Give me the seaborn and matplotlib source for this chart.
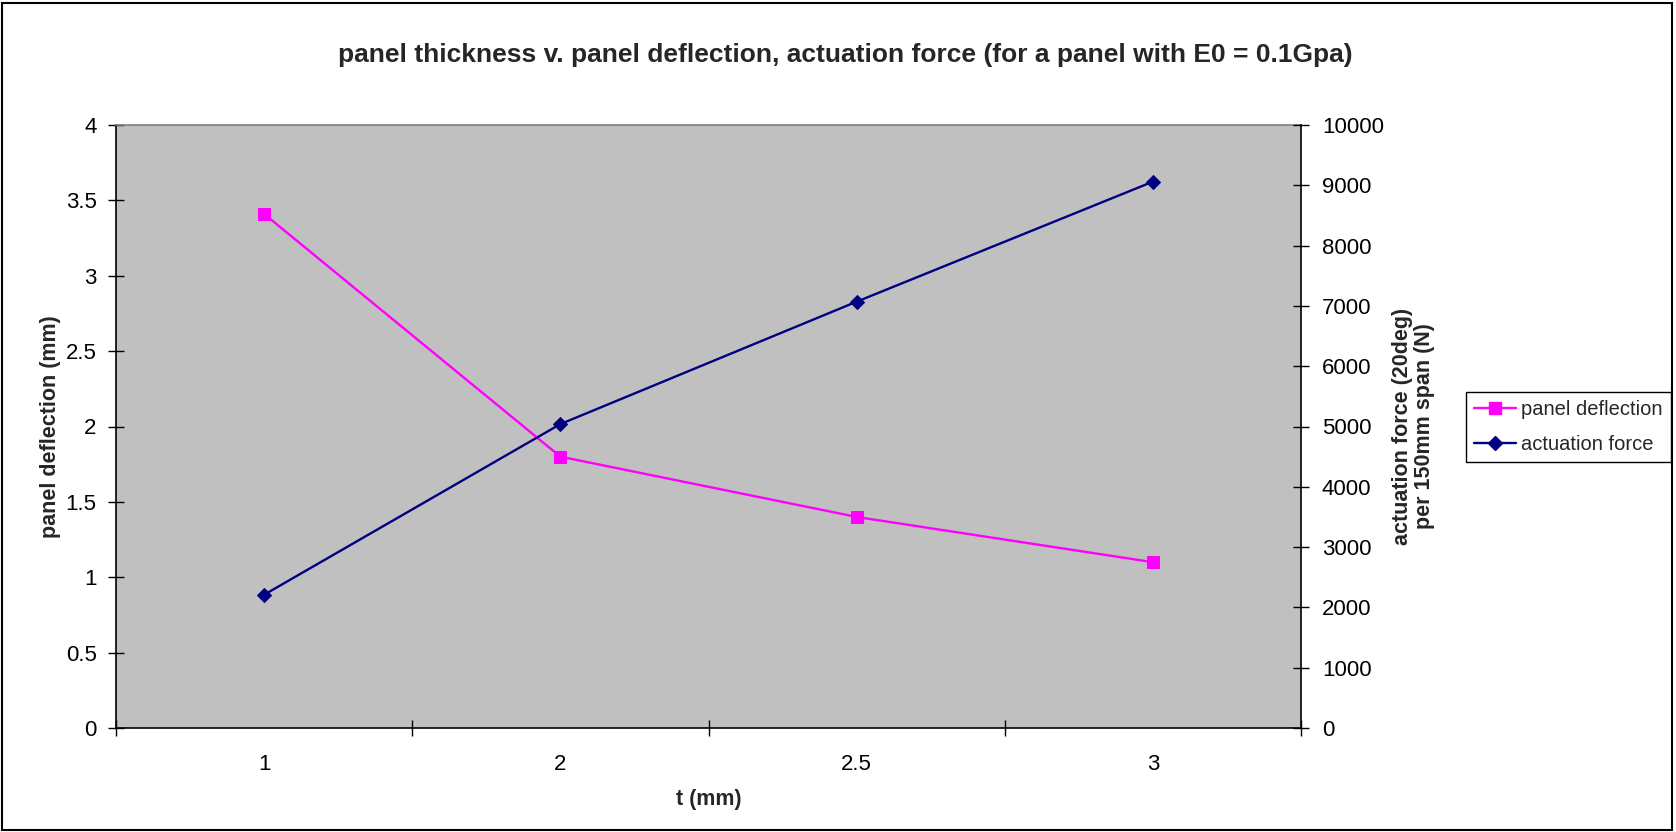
import matplotlib
matplotlib.use("Agg")
import matplotlib.pyplot as plt
import seaborn as sns
import numpy as np
import pandas as pd
from matplotlib.patches import Rectangle
from matplotlib.lines import Line2D
from matplotlib.ticker import FixedLocator, NullFormatter, FixedFormatter

# ---- data ----
categories = ["1", "2", "2.5", "3"]
deflection = [3.41, 1.80, 1.40, 1.10]
force = [2210, 5040, 7070, 9060]
left_ticks = [0, 0.5, 1, 1.5, 2, 2.5, 3, 3.5, 4]
right_ticks = [0, 1000, 2000, 3000, 4000, 5000, 6000, 7000, 8000, 9000, 10000]

sns.set_theme(style="white")
plt.rcParams['font.family'] = ['Liberation Sans', 'DejaVu Sans']

W, H = 1676, 832
fig = plt.figure(figsize=(W / 100, H / 100), dpi=100)
ax = fig.add_axes([116 / W, 1 - 728 / H, (1301 - 116) / W, (728 - 125) / H])
ax.set_facecolor("#C0C0C0")

pos = np.arange(len(categories))
df = pd.DataFrame({"pos": pos, "deflection": deflection, "force": force})

pink = "#FF00FF"
navy = "#000080"

sns.lineplot(data=df, x="pos", y="deflection", ax=ax, color=pink, marker="s",
             markersize=8, markeredgecolor=pink, linewidth=1.7, legend=False)
ax.set_xlim(-0.5, len(categories) - 0.5)
ax.set_ylim(0, 4)

ax2 = ax.twinx()
sns.lineplot(data=df, x="pos", y="force", ax=ax2, color=navy, marker="D",
             markersize=7, markeredgecolor=navy, linewidth=1.7, legend=False)
ax2.set_ylim(0, 10000)
ax2.set_xlim(-0.5, len(categories) - 0.5)

# spines
for a in (ax, ax2):
    for s in a.spines.values():
        s.set_visible(False)
ax.spines['left'].set_visible(True)
ax.spines['left'].set_color("black")
ax.spines['left'].set_linewidth(1.2)
ax.spines['bottom'].set_visible(True)
ax.spines['bottom'].set_color("black")
ax.spines['bottom'].set_linewidth(1.2)
ax.spines['top'].set_visible(True)
ax.spines['top'].set_color("#808080")
ax.spines['top'].set_linewidth(1.2)
ax2.spines['right'].set_visible(True)
ax2.spines['right'].set_color("black")
ax2.spines['right'].set_linewidth(1.2)

# x ticks: boundaries as major (no labels), centers as minor (labels)
ax.xaxis.set_major_locator(FixedLocator(np.arange(-0.5, len(categories), 1.0)))
ax.xaxis.set_major_formatter(NullFormatter())
ax.xaxis.set_minor_locator(FixedLocator(pos))
ax.xaxis.set_minor_formatter(FixedFormatter(categories))
ax.tick_params(axis='x', which='major', direction='inout', length=12, width=1, color='black', bottom=True)
ax.tick_params(axis='x', which='minor', length=0, pad=19, labelsize=16, labelcolor='black', bottom=True)

ax.set_yticks(left_ticks)
ax.set_yticklabels([f"{t:g}" for t in left_ticks])
ax.tick_params(axis='y', which='major', direction='inout', length=12, width=1, color='black',
               left=True, pad=8, labelsize=16, labelcolor='black')
ax2.set_yticks(right_ticks)
ax2.set_yticklabels([str(t) for t in right_ticks])
ax2.tick_params(axis='y', which='major', direction='inout', length=12, width=1, color='black',
                right=True, pad=9, labelsize=16, labelcolor='black')
ax2.tick_params(axis='x', bottom=False, labelbottom=False)

ax.set_xlabel("t (mm)", fontsize=15.5, fontweight='bold', labelpad=10)
ax.set_ylabel("panel deflection (mm)", fontsize=15.5, fontweight='bold', labelpad=3)
ax2.set_ylabel("actuation force (20deg)\nper 150mm span (N)", fontsize=15.5, fontweight='bold',
               labelpad=6, linespacing=1.05)

fig.text(845 / W, 1 - 55 / H,
         "panel thickness v. panel deflection, actuation force (for a panel with E0 = 0.1Gpa)",
         ha='center', va='center', fontsize=19, fontweight='bold')

# legend
handles = [Line2D([], [], color=pink, marker='s', markersize=8, linewidth=1.7, markeredgecolor=pink),
           Line2D([], [], color=navy, marker='D', markersize=7, linewidth=1.7, markeredgecolor=navy)]
leg = fig.legend(handles, ["panel deflection", "actuation force"], loc='center left',
                 bbox_to_anchor=(1466 / W, 1 - 427 / H), fontsize=14.5, frameon=True,
                 fancybox=False, framealpha=1, edgecolor='black', borderpad=0.4,
                 handlelength=2.1, handletextpad=0.25, labelspacing=0.75, borderaxespad=0)
leg.get_frame().set_linewidth(1.0)

# outer border
fig.patches.append(Rectangle((2 / W, 2 / H), 1 - 6 / W, 1 - 5 / H, transform=fig.transFigure,
                             fill=False, edgecolor='black', linewidth=1.5))

fig.savefig("out.png", dpi=100)
